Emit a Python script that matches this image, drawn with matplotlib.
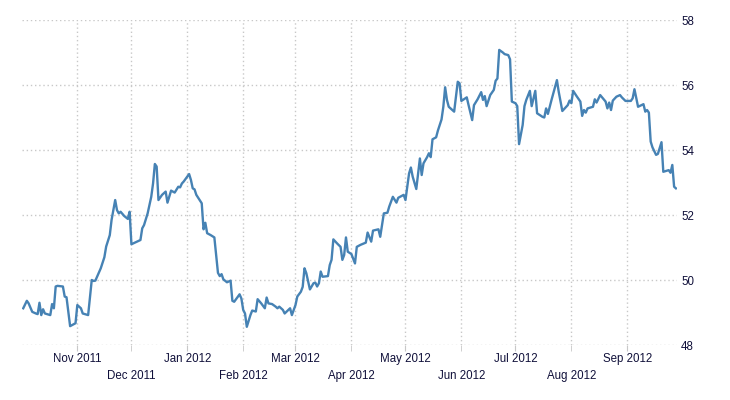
import matplotlib
matplotlib.use("Agg")
import matplotlib.pyplot as plt
import matplotlib.dates as mdates
import pandas as pd

dates = [
    "2011-10-02", "2011-10-04", "2011-10-05", "2011-10-07", "2011-10-09", "2011-10-10",
    "2011-10-11", "2011-10-12", "2011-10-13", "2011-10-14", "2011-10-17", "2011-10-18",
    "2011-10-19", "2011-10-20", "2011-10-21", "2011-10-24", "2011-10-25", "2011-10-26",
    "2011-10-28", "2011-10-31", "2011-11-01", "2011-11-03", "2011-11-04", "2011-11-07",
    "2011-11-09", "2011-11-10", "2011-11-11", "2011-11-14", "2011-11-16", "2011-11-17",
    "2011-11-19", "2011-11-20", "2011-11-22", "2011-11-23", "2011-11-24", "2011-11-25",
    "2011-11-27", "2011-11-29", "2011-11-30", "2011-12-01", "2011-12-04", "2011-12-06",
    "2011-12-07", "2011-12-08", "2011-12-10", "2011-12-12", "2011-12-13", "2011-12-14",
    "2011-12-15", "2011-12-16", "2011-12-18", "2011-12-20", "2011-12-21", "2011-12-23",
    "2011-12-25", "2011-12-27", "2011-12-28", "2011-12-29", "2011-12-30", "2012-01-02",
    "2012-01-03", "2012-01-04", "2012-01-05", "2012-01-06", "2012-01-09", "2012-01-10",
    "2012-01-11", "2012-01-12", "2012-01-14", "2012-01-16", "2012-01-18", "2012-01-19",
    "2012-01-20", "2012-01-21", "2012-01-23", "2012-01-25", "2012-01-26", "2012-01-27",
    "2012-01-30", "2012-01-31", "2012-02-01", "2012-02-02", "2012-02-03", "2012-02-05",
    "2012-02-06", "2012-02-08", "2012-02-09", "2012-02-11", "2012-02-13", "2012-02-14",
    "2012-02-15", "2012-02-17", "2012-02-19", "2012-02-20", "2012-02-21", "2012-02-23",
    "2012-02-24", "2012-02-27", "2012-02-28", "2012-03-01", "2012-03-02", "2012-03-04",
    "2012-03-05", "2012-03-06", "2012-03-07", "2012-03-09", "2012-03-11", "2012-03-12",
    "2012-03-13", "2012-03-14", "2012-03-15", "2012-03-16", "2012-03-19", "2012-03-20",
    "2012-03-21", "2012-03-22", "2012-03-24", "2012-03-26", "2012-03-27", "2012-03-28",
    "2012-03-29", "2012-03-30", "2012-04-01", "2012-04-03", "2012-04-04", "2012-04-06",
    "2012-04-09", "2012-04-10", "2012-04-12", "2012-04-13", "2012-04-16", "2012-04-17",
    "2012-04-19", "2012-04-21", "2012-04-22", "2012-04-24", "2012-04-26", "2012-04-27",
    "2012-04-30", "2012-05-01", "2012-05-03", "2012-05-04", "2012-05-05", "2012-05-07",
    "2012-05-09", "2012-05-10", "2012-05-11", "2012-05-13", "2012-05-14", "2012-05-15",
    "2012-05-16", "2012-05-18", "2012-05-19", "2012-05-21", "2012-05-22", "2012-05-23",
    "2012-05-24", "2012-05-25", "2012-05-28", "2012-05-30", "2012-05-31", "2012-06-01",
    "2012-06-04", "2012-06-05", "2012-06-07", "2012-06-08", "2012-06-10", "2012-06-12",
    "2012-06-13", "2012-06-14", "2012-06-15", "2012-06-17", "2012-06-19", "2012-06-20",
    "2012-06-21", "2012-06-22", "2012-06-24", "2012-06-25", "2012-06-27", "2012-06-28",
    "2012-06-29", "2012-07-01", "2012-07-02", "2012-07-03", "2012-07-05", "2012-07-06",
    "2012-07-07", "2012-07-09", "2012-07-10", "2012-07-12", "2012-07-13", "2012-07-16",
    "2012-07-17", "2012-07-18", "2012-07-19", "2012-07-21", "2012-07-24", "2012-07-25",
    "2012-07-27", "2012-07-30", "2012-07-31", "2012-08-01", "2012-08-02", "2012-08-04",
    "2012-08-06", "2012-08-07", "2012-08-08", "2012-08-09", "2012-08-10", "2012-08-13",
    "2012-08-14", "2012-08-15", "2012-08-17", "2012-08-20", "2012-08-21", "2012-08-22",
    "2012-08-23", "2012-08-24", "2012-08-26", "2012-08-28", "2012-08-29", "2012-08-31",
    "2012-09-03", "2012-09-04", "2012-09-05", "2012-09-07", "2012-09-10", "2012-09-11",
    "2012-09-12", "2012-09-13", "2012-09-14", "2012-09-15", "2012-09-17", "2012-09-18",
    "2012-09-20", "2012-09-21", "2012-09-24", "2012-09-25", "2012-09-26", "2012-09-27",
    "2012-09-28",
]

values = [
    49.13, 49.36, 49.28, 49.02, 48.97, 48.95,
    49.30, 48.92, 49.10, 48.97, 48.92, 49.26,
    49.13, 49.80, 49.82, 49.80, 49.49, 49.47,
    48.58, 48.67, 49.23, 49.13, 48.97, 48.92,
    50.00, 49.97, 49.98, 50.36, 50.70, 51.03,
    51.38, 51.85, 52.46, 52.15, 52.05, 52.10,
    51.97, 51.88, 52.10, 51.10, 51.18, 51.23,
    51.59, 51.69, 52.05, 52.56, 52.97, 53.57,
    53.49, 52.46, 52.62, 52.72, 52.38, 52.75,
    52.69, 52.87, 52.85, 52.97, 53.03, 53.26,
    53.08, 52.82, 52.79, 52.62, 52.36, 51.56,
    51.76, 51.44, 51.38, 51.31, 50.22, 50.12,
    50.18, 50.02, 49.93, 49.98, 49.36, 49.33,
    49.56, 49.43, 49.08, 48.97, 48.56, 48.92,
    49.06, 49.03, 49.41, 49.28, 49.13, 49.46,
    49.28, 49.26, 49.18, 49.13, 49.18, 49.08,
    48.97, 49.13, 48.92, 49.23, 49.49, 49.64,
    49.79, 50.36, 50.21, 49.71, 49.90, 49.92,
    49.80, 49.90, 50.26, 50.10, 50.12, 50.46,
    50.62, 51.25, 51.13, 51.02, 50.62, 50.77,
    51.31, 50.87, 50.80, 50.51, 51.02, 51.08,
    51.15, 51.46, 51.18, 51.52, 51.56, 51.33,
    52.05, 52.07, 52.26, 52.56, 52.38, 52.53,
    52.62, 52.46, 53.28, 53.46, 53.18, 52.80,
    53.74, 53.23, 53.59, 53.78, 53.90, 53.78,
    54.33, 54.39, 54.60, 54.94, 55.33, 55.93,
    55.54, 55.33, 55.18, 56.10, 56.05, 55.51,
    55.62, 55.38, 54.92, 55.38, 55.56, 55.78,
    55.54, 55.66, 55.35, 55.69, 55.85, 56.13,
    56.20, 57.08, 57.00, 56.95, 56.92, 56.79,
    55.49, 55.44, 55.35, 54.18, 54.77, 55.35,
    55.54, 55.82, 55.35, 55.82, 55.13, 55.02,
    55.00, 55.28, 55.11, 55.54, 56.15, 55.79,
    55.20, 55.38, 55.52, 55.44, 55.82, 55.65,
    55.49, 55.05, 55.23, 55.15, 55.28, 55.33,
    55.56, 55.46, 55.69, 55.49, 55.28, 55.46,
    55.23, 55.52, 55.64, 55.69, 55.62, 55.51,
    55.51, 55.59, 55.87, 55.33, 55.41, 55.18,
    55.23, 55.15, 54.26, 54.08, 53.85, 53.88,
    54.24, 53.33, 53.38, 53.30, 53.54, 52.87,
    52.82,
]

y_ticks = [48, 50, 52, 54, 56, 58]

top_months = ["2011-11-01", "2012-01-01", "2012-03-01", "2012-05-01", "2012-07-01", "2012-09-01"]
bottom_months = ["2011-12-01", "2012-02-01", "2012-04-01", "2012-06-01", "2012-08-01"]

x = pd.to_datetime(dates)
top = pd.to_datetime(top_months)
bottom = pd.to_datetime(bottom_months)

text_color = "#10103a"
grid_color = "#c8c8c8"

fig = plt.figure(figsize=(7.3, 4), dpi=100)
ax = fig.add_axes([0.0301, 0.1375, 0.8973, 0.8125])

ax.plot(x, values, color="#4682b4", linewidth=1.7)

ax.set_ylim(48, 58)
ax.set_xlim(x[0] - pd.Timedelta(days=0.7), x[-1] + pd.Timedelta(days=0.6))

ax.set_yticks(y_ticks)
ax.yaxis.tick_right()
ax.tick_params(axis="y", length=0, pad=3, labelsize=8.3, labelcolor=text_color)

ax.set_xticks(top)
ax.set_xticklabels([d.strftime("%b %Y") for d in top])
ax.set_xticks(bottom, minor=True)
ax.set_xticklabels([d.strftime("%b %Y") for d in bottom], minor=True)
ax.tick_params(axis="x", which="both", length=4, color=grid_color, labelsize=8.3, labelcolor=text_color)
ax.tick_params(axis="x", which="major", pad=2)
ax.tick_params(axis="x", which="minor", pad=14)

for label in ax.get_xticklabels(which="both") + ax.get_yticklabels():
    label.set_family("Liberation Sans")

ax.grid(True, which="both", axis="x", color=grid_color, linestyle=(0, (1, 2)), linewidth=1)
ax.grid(True, which="major", axis="y", color=grid_color, linestyle=(0, (1, 2)), linewidth=1)
ax.set_axisbelow(True)

for s in ax.spines.values():
    s.set_visible(False)

fig.savefig("out.png", dpi=100)
